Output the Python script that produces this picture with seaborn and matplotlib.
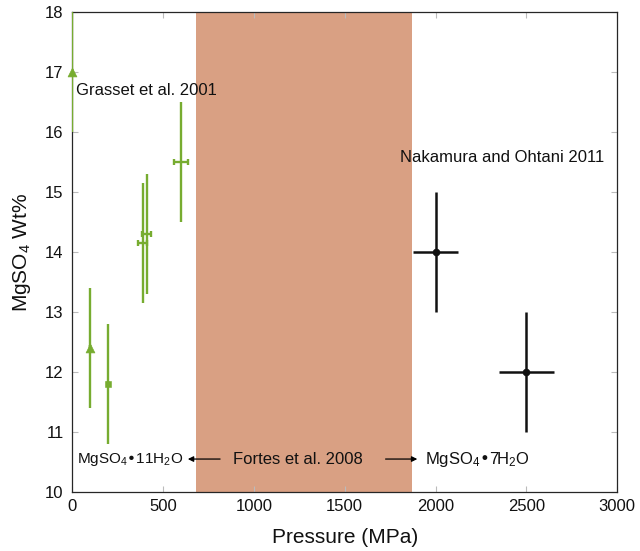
import matplotlib
matplotlib.use("Agg")
import matplotlib.pyplot as plt
import seaborn as sns
import pandas as pd

# Grasset et al. 2001 (green)
grasset_p = [2, 100, 200, 390, 410, 600]
grasset_wt = [17.0, 12.4, 11.8, 14.15, 14.3, 15.5]
grasset_xerr = [0, 0, 0, 25, 25, 40]
grasset_yerr = [1, 1, 1, 1, 1, 1]
grasset_marker = ["^", "^", "s", "", "", ""]

# Nakamura and Ohtani 2011 (black)
nakamura_p = [2000, 2500]
nakamura_wt = [14.0, 12.0]
nakamura_xerr = [125, 150]
nakamura_yerr = [1, 1]

# Fortes et al. 2008 pressure range
fortes_range = [680, 1870]

green = "#77AC30"
shade = "#D9A083"

sns.set_style("ticks")
plt.rcParams["font.family"] = ["Liberation Sans", "DejaVu Sans"]
plt.rcParams["mathtext.default"] = "regular"

fig = plt.figure(figsize=(6.4, 5.51), dpi=100)
ax = fig.add_axes([0.1125, 0.107, 0.852, 0.871])

ax.axvspan(fortes_range[0], fortes_range[1], color=shade, lw=0, zorder=0)

# error bars: vertical without caps, horizontal with caps
ax.errorbar(grasset_p, grasset_wt, yerr=grasset_yerr,
            fmt="none", ecolor=green, elinewidth=1.7, capsize=0, zorder=3)
ax.errorbar(grasset_p, grasset_wt, xerr=grasset_xerr,
            fmt="none", ecolor=green, elinewidth=1.7, capsize=2.5, capthick=1.7, zorder=3)
ax.errorbar(nakamura_p, nakamura_wt, xerr=nakamura_xerr, yerr=nakamura_yerr,
            fmt="none", ecolor="#111111", elinewidth=1.8, capsize=0, zorder=3)

# markers
g = pd.DataFrame({"p": grasset_p, "wt": grasset_wt, "m": grasset_marker})
tri = g[g["m"] == "^"]
sq = g[g["m"] == "s"]
sns.scatterplot(data=tri, x="p", y="wt", marker="^", s=40, color=green,
                edgecolor=green, ax=ax, zorder=4, clip_on=False)
sns.scatterplot(data=sq, x="p", y="wt", marker="s", s=25, color=green,
                edgecolor=green, ax=ax, zorder=4)
nk = pd.DataFrame({"p": nakamura_p, "wt": nakamura_wt})
sns.scatterplot(data=nk, x="p", y="wt", marker="o", s=25, color="#111111",
                edgecolor="#111111", ax=ax, zorder=4)

ax.set_xlim(0, 3000)
ax.set_ylim(10, 18)
ax.set_xticks(range(0, 3001, 500))
ax.set_yticks(range(10, 19))
ax.tick_params(direction="in", length=4, width=0.8, color="#BBBBBB",
               labelcolor="#111111", labelsize=12, top=True, right=True)
ax.tick_params(axis="x", pad=5)
ax.tick_params(axis="y", pad=6)
for s in ax.spines.values():
    s.set_color("#262626")
    s.set_linewidth(0.9)

ax.set_xlabel("Pressure (MPa)", fontsize=15, color="#111111", labelpad=10)
ax.set_ylabel("MgSO$_4$ Wt%", fontsize=15, color="#111111", labelpad=9)

# annotations
ax.text(20, 16.7, "Grasset et al. 2001", fontsize=12, va="center", ha="left", color="#111111")
ax.text(1805, 15.58, "Nakamura and Ohtani 2011", fontsize=12, va="center", ha="left", color="#111111")
ax.text(1240, 10.55, "Fortes et al. 2008", fontsize=12, va="center", ha="center", color="#111111")
ax.annotate("", xy=(622, 10.55), xytext=(830, 10.55),
            arrowprops=dict(arrowstyle="-|>", color="black", lw=0.9, mutation_scale=8))
ax.annotate("", xy=(1915, 10.55), xytext=(1710, 10.55),
            arrowprops=dict(arrowstyle="-|>", color="black", lw=0.9, mutation_scale=8))
ax.text(610, 10.55, "MgSO$_4$•11H$_2$O", fontsize=11, va="center", ha="right", color="#111111")
ax.text(1943, 10.55, "MgSO$_4$•7H$_2$O", fontsize=12, va="center", ha="left", color="#111111")

fig.savefig("out.png", dpi=100)
